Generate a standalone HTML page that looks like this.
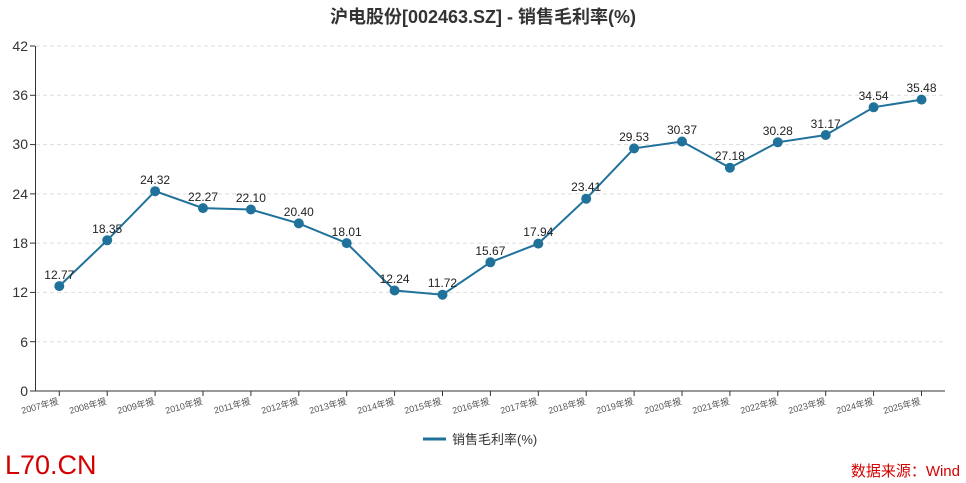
<!DOCTYPE html><html><head><meta charset="utf-8"><style>body{margin:0;background:#fff}svg{display:block;font-family:"Liberation Sans","Noto Sans CJK SC",sans-serif}</style></head><body>
<svg width="966" height="483" viewBox="0 0 966 483">
<text x="483" y="23" text-anchor="middle" font-size="18" font-weight="bold" fill="#333">沪电股份[002463.SZ] - 销售毛利率(%)</text>
<g stroke="#ddd" stroke-dasharray="4,3" stroke-width="1">
<line x1="36" x2="945" y1="46" y2="46"/><line x1="36" x2="945" y1="95.3" y2="95.3"/><line x1="36" x2="945" y1="144.6" y2="144.6"/><line x1="36" x2="945" y1="193.9" y2="193.9"/><line x1="36" x2="945" y1="243.1" y2="243.1"/><line x1="36" x2="945" y1="292.4" y2="292.4"/><line x1="36" x2="945" y1="341.7" y2="341.7"/></g>
<g stroke="#333" stroke-width="1"><line x1="35.5" y1="46" x2="35.5" y2="391"/><line x1="35" y1="391" x2="945" y2="391"/>
<line x1="30" x2="35" y1="46" y2="46"/><line x1="30" x2="35" y1="95.3" y2="95.3"/><line x1="30" x2="35" y1="144.6" y2="144.6"/><line x1="30" x2="35" y1="193.9" y2="193.9"/><line x1="30" x2="35" y1="243.1" y2="243.1"/><line x1="30" x2="35" y1="292.4" y2="292.4"/><line x1="30" x2="35" y1="341.7" y2="341.7"/><line x1="30" x2="35" y1="391" y2="391"/>
<g><line x1="59.3" x2="59.3" y1="391" y2="396"/><line x1="107.2" x2="107.2" y1="391" y2="396"/><line x1="155.1" x2="155.1" y1="391" y2="396"/><line x1="203" x2="203" y1="391" y2="396"/><line x1="250.9" x2="250.9" y1="391" y2="396"/><line x1="298.8" x2="298.8" y1="391" y2="396"/><line x1="346.7" x2="346.7" y1="391" y2="396"/><line x1="394.6" x2="394.6" y1="391" y2="396"/><line x1="442.5" x2="442.5" y1="391" y2="396"/><line x1="490.4" x2="490.4" y1="391" y2="396"/><line x1="538.3" x2="538.3" y1="391" y2="396"/><line x1="586.2" x2="586.2" y1="391" y2="396"/><line x1="634.1" x2="634.1" y1="391" y2="396"/><line x1="682" x2="682" y1="391" y2="396"/><line x1="729.9" x2="729.9" y1="391" y2="396"/><line x1="777.8" x2="777.8" y1="391" y2="396"/><line x1="825.7" x2="825.7" y1="391" y2="396"/><line x1="873.6" x2="873.6" y1="391" y2="396"/><line x1="921.5" x2="921.5" y1="391" y2="396"/></g></g>
<g font-size="14" fill="#333" text-anchor="end"><text x="28" y="51">42</text><text x="28" y="100">36</text><text x="28" y="149">30</text><text x="28" y="199">24</text><text x="28" y="248">18</text><text x="28" y="297">12</text><text x="28" y="347">6</text><text x="28" y="396">0</text></g>
<g font-size="9" fill="#555" text-anchor="end">
<text transform="translate(59,404) rotate(-15)">2007年报</text><text transform="translate(107,404) rotate(-15)">2008年报</text><text transform="translate(155,404) rotate(-15)">2009年报</text><text transform="translate(203,404) rotate(-15)">2010年报</text><text transform="translate(251,404) rotate(-15)">2011年报</text><text transform="translate(299,404) rotate(-15)">2012年报</text><text transform="translate(347,404) rotate(-15)">2013年报</text><text transform="translate(395,404) rotate(-15)">2014年报</text><text transform="translate(442,404) rotate(-15)">2015年报</text><text transform="translate(490,404) rotate(-15)">2016年报</text><text transform="translate(538,404) rotate(-15)">2017年报</text><text transform="translate(586,404) rotate(-15)">2018年报</text><text transform="translate(634,404) rotate(-15)">2019年报</text><text transform="translate(682,404) rotate(-15)">2020年报</text><text transform="translate(730,404) rotate(-15)">2021年报</text><text transform="translate(778,404) rotate(-15)">2022年报</text><text transform="translate(826,404) rotate(-15)">2023年报</text><text transform="translate(874,404) rotate(-15)">2024年报</text><text transform="translate(921,404) rotate(-15)">2025年报</text></g>
<polyline fill="none" stroke="#21729b" stroke-width="2" points="59.3,286.1 107.2,240.3 155.1,191.2 203,208.1 250.9,209.5 298.8,223.4 346.7,243.1 394.6,290.5 442.5,294.7 490.4,262.3 538.3,243.6 586.2,198.7 634.1,148.4 682,141.5 729.9,167.7 777.8,142.3 825.7,135 873.6,107.3 921.5,99.6"/>
<g fill="#21729b"><circle cx="59.3" cy="286.1" r="5"/><circle cx="107.2" cy="240.3" r="5"/><circle cx="155.1" cy="191.2" r="5"/><circle cx="203" cy="208.1" r="5"/><circle cx="250.9" cy="209.5" r="5"/><circle cx="298.8" cy="223.4" r="5"/><circle cx="346.7" cy="243.1" r="5"/><circle cx="394.6" cy="290.5" r="5"/><circle cx="442.5" cy="294.7" r="5"/><circle cx="490.4" cy="262.3" r="5"/><circle cx="538.3" cy="243.6" r="5"/><circle cx="586.2" cy="198.7" r="5"/><circle cx="634.1" cy="148.4" r="5"/><circle cx="682" cy="141.5" r="5"/><circle cx="729.9" cy="167.7" r="5"/><circle cx="777.8" cy="142.3" r="5"/><circle cx="825.7" cy="135" r="5"/><circle cx="873.6" cy="107.3" r="5"/><circle cx="921.5" cy="99.6" r="5"/></g>
<g font-size="12" fill="#222" text-anchor="middle">
<text x="59.3" y="279">12.77</text><text x="107.2" y="233">18.35</text><text x="155.1" y="184">24.32</text><text x="203" y="201">22.27</text><text x="250.9" y="202">22.10</text><text x="298.8" y="216">20.40</text><text x="346.7" y="236">18.01</text><text x="394.6" y="283">12.24</text><text x="442.5" y="287">11.72</text><text x="490.4" y="255">15.67</text><text x="538.3" y="236">17.94</text><text x="586.2" y="191">23.41</text><text x="634.1" y="141">29.53</text><text x="682" y="134">30.37</text><text x="729.9" y="160">27.18</text><text x="777.8" y="135">30.28</text><text x="825.7" y="128">31.17</text><text x="873.6" y="100">34.54</text><text x="921.5" y="92">35.48</text></g>
<line x1="423" x2="446" y1="439" y2="439" stroke="#21729b" stroke-width="3"/>
<text x="452" y="444" font-size="13" fill="#333">销售毛利率(%)</text>
<text x="5" y="474" font-size="27" fill="#d40000">L70.CN</text>
<text x="960" y="476" font-size="15" fill="#d40000" text-anchor="end">数据来源：Wind</text>
</svg></body></html>
